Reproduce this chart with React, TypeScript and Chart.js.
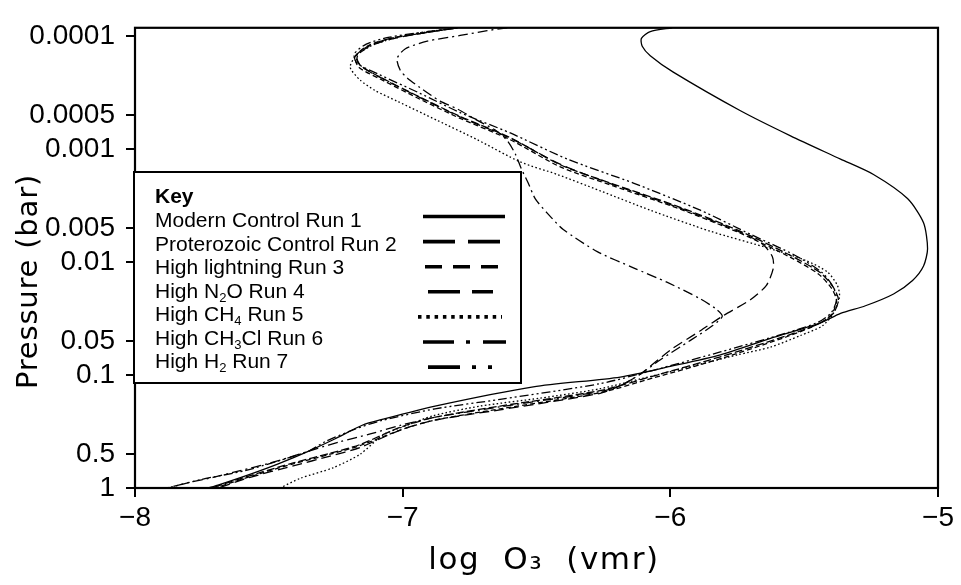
import React, { useEffect, useRef } from 'react';
import { Chart, registerables } from 'chart.js';

Chart.register(...registerables);

// ---------- axis / text ----------
const xTickValues = [-8, -7, -6, -5];
const yTickValues = [0.0001, 0.0005, 0.001, 0.005, 0.01, 0.05, 0.1, 0.5, 1];
const yTickLabels = ['0.0001', '0.0005', '0.001', '0.005', '0.01', '0.05', '0.1', '0.5', '1'];
const xTitle = 'log  O₃  (vmr)';
const yTitle = 'Pressure (bar)';
const keyTitle = 'Key';
// "_d" marks a subscript digit in the key
const keyLabels = [
  'Modern Control Run 1',
  'Proterozoic Control Run 2',
  'High lightning Run 3',
  'High N_2O Run 4',
  'High CH_4 Run 5',
  'High CH_3Cl Run 6',
  'High H_2 Run 7',
];
const seriesNames = [
  'Modern Control Run 1',
  'Proterozoic Control Run 2',
  'High lightning Run 3',
  'High N₂O Run 4',
  'High CH₄ Run 5',
  'High CH₃Cl Run 6',
  'High H₂ Run 7',
];

// ---------- data: log O3 (vmr) vs pressure (bar) ----------
const run1X = [-5.993, -6.075, -6.108, -6.105, -6.075, -5.989, -5.738, -5.551, -5.364, -5.241, -5.114, -5.054, -5.039, -5.054, -5.095, -5.166, -5.271, -5.364, -5.439, -5.626, -5.813, -6.0, -6.187, -6.512, -6.879, -7.077, -7.151, -7.252, -7.353, -7.465, -7.563, -7.69, -7.727];
const run1P = [8.38e-5, 9.06e-5, 1.04e-4, 1.22e-4, 1.48e-4, 2.07e-4, 4.55e-4, 7.59e-4, 1.22e-3, 1.67e-3, 2.73e-3, 4.47e-3, 7.59e-3, 1.08e-2, 1.45e-2, 1.91e-2, 2.43e-2, 2.84e-2, 3.45e-2, 4.73e-2, 6.62e-2, 8.38e-2, 0.104, 0.127, 0.188, 0.247, 0.278, 0.366, 0.473, 0.611, 0.745, 0.942, 1.0];

const run2X = [-6.796, -6.935, -7.047, -7.129, -7.174, -7.159, -7.084, -6.935, -6.785, -6.598, -6.411, -6.213, -5.963, -5.738, -5.551, -5.439, -5.391, -5.372, -5.391, -5.439, -5.563, -5.813, -6.064, -6.262, -6.636, -6.886, -7.009, -7.159, -7.271, -7.409, -7.533, -7.715];
const run2P = [8.38e-5, 9.42e-5, 1.04e-4, 1.22e-4, 1.48e-4, 1.8e-4, 2.29e-4, 3.45e-4, 5.11e-4, 7.88e-4, 1.37e-3, 2.03e-3, 3.26e-3, 5.32e-3, 8.71e-3, 1.24e-2, 1.67e-2, 2.15e-2, 2.84e-2, 3.45e-2, 4.46e-2, 6.88e-2, 0.102, 0.137, 0.188, 0.238, 0.29, 0.412, 0.492, 0.6, 0.73, 1.0];

const run3X = [-6.796, -6.935, -7.047, -7.133, -7.178, -7.163, -7.084, -6.935, -6.785, -6.598, -6.411, -6.213, -5.963, -5.738, -5.551, -5.447, -5.398, -5.379, -5.398, -5.447, -5.563, -5.813, -6.064, -6.262, -6.636, -6.886, -7.009, -7.159, -7.271, -7.409, -7.533, -7.701];
const run3P = [8.38e-5, 9.42e-5, 1.04e-4, 1.22e-4, 1.51e-4, 1.88e-4, 2.38e-4, 3.6e-4, 5.32e-4, 8.22e-4, 1.43e-3, 2.11e-3, 3.39e-3, 5.54e-3, 9.06e-3, 1.27e-2, 1.7e-2, 2.2e-2, 2.9e-2, 3.52e-2, 4.55e-2, 7.16e-2, 0.106, 0.143, 0.199, 0.252, 0.307, 0.421, 0.502, 0.611, 0.745, 1.0];

const run4X = [-6.796, -6.935, -7.047, -7.129, -7.17, -7.155, -7.08, -6.931, -6.781, -6.594, -6.407, -6.209, -5.963, -5.738, -5.656, -5.619, -5.615, -5.641, -5.701, -5.806, -5.888, -6.0, -6.112, -6.187, -6.262, -6.636, -6.886, -7.009, -7.159, -7.271, -7.409, -7.57, -7.69];
const run4P = [8.38e-5, 9.42e-5, 1.06e-4, 1.24e-4, 1.51e-4, 1.84e-4, 2.33e-4, 3.52e-4, 5.22e-4, 8.05e-4, 1.37e-3, 2.07e-3, 3.32e-3, 5.43e-3, 6.89e-3, 8.89e-3, 1.12e-2, 1.6e-2, 2.15e-2, 3.01e-2, 4.05e-2, 6.0e-2, 9.8e-2, 0.124, 0.145, 0.203, 0.252, 0.307, 0.437, 0.522, 0.636, 0.805, 1.0];

const run5X = [-6.796, -6.972, -7.103, -7.174, -7.196, -7.159, -7.103, -7.021, -6.871, -6.721, -6.561, -6.422, -6.262, -6.075, -5.85, -5.626, -5.495, -5.413, -5.376, -5.368, -5.391, -5.432, -5.514, -5.626, -5.75, -5.936, -6.112, -6.262, -6.486, -6.71, -6.886, -6.983, -7.073, -7.159, -7.26, -7.383, -7.458];
const run5P = [8.38e-5, 9.61e-5, 1.17e-4, 1.48e-4, 1.88e-4, 2.43e-4, 3.01e-4, 3.74e-4, 5.54e-4, 8.22e-4, 1.29e-3, 1.67e-3, 2.33e-3, 3.46e-3, 5.32e-3, 7.59e-3, 9.62e-3, 1.22e-2, 1.6e-2, 2.03e-2, 2.84e-2, 3.66e-2, 4.46e-2, 5.65e-2, 6.62e-2, 8.55e-2, 0.108, 0.132, 0.16, 0.188, 0.229, 0.278, 0.339, 0.502, 0.662, 0.822, 1.0];

const run6X = [-6.609, -6.684, -6.785, -6.908, -6.991, -7.021, -7.009, -6.983, -6.935, -6.86, -6.796, -6.721, -6.654, -6.609, -6.579, -6.557, -6.531, -6.505, -6.46, -6.4, -6.273, -6.138, -6.011, -5.888, -5.832, -5.806, -5.843, -5.925, -6.037, -6.112, -6.187, -6.262, -6.636, -6.886, -7.009, -7.121, -7.234, -7.32, -7.421, -7.507, -7.607, -7.708, -7.794, -7.88];
const run6P = [8.38e-5, 8.88e-5, 9.8e-5, 1.1e-4, 1.29e-4, 1.57e-4, 1.99e-4, 2.33e-4, 2.84e-4, 3.74e-4, 4.38e-4, 5.54e-4, 6.75e-4, 8.38e-4, 1.1e-3, 1.48e-3, 1.99e-3, 2.73e-3, 3.67e-3, 5.12e-3, 8.05e-3, 1.12e-2, 1.51e-2, 2.11e-2, 2.57e-2, 3.01e-2, 3.66e-2, 4.92e-2, 7.3e-2, 9.8e-2, 0.124, 0.14, 0.191, 0.238, 0.279, 0.332, 0.389, 0.447, 0.533, 0.611, 0.702, 0.805, 0.889, 1.0];

const run7X = [-6.796, -6.935, -7.054, -7.136, -7.181, -7.17, -7.092, -6.935, -6.785, -6.598, -6.385, -6.138, -5.888, -5.701, -5.533, -5.432, -5.391, -5.379, -5.398, -5.447, -5.563, -5.813, -6.064, -6.262, -6.636, -6.879, -7.077, -7.178, -7.29, -7.353, -7.465, -7.589, -7.75, -7.877];
const run7P = [8.38e-5, 9.24e-5, 1.02e-4, 1.17e-4, 1.43e-4, 1.73e-4, 2.15e-4, 3.19e-4, 4.73e-4, 7.16e-4, 1.22e-3, 1.99e-3, 3.46e-3, 5.65e-3, 8.71e-3, 1.24e-2, 1.67e-2, 2.15e-2, 2.78e-2, 3.39e-2, 4.21e-2, 6.24e-2, 9.06e-2, 0.119, 0.164, 0.199, 0.252, 0.301, 0.389, 0.473, 0.576, 0.702, 0.838, 1.0];

const seriesX = [run1X, run2X, run3X, run4X, run5X, run6X, run7X];
const seriesP = [run1P, run2P, run3P, run4P, run5P, run6P, run7P];

// ---------- styles ----------
const plotDash = [[], [8, 3], [5, 3], [10, 5], [1.6, 2.4], [10, 4, 2, 4], [9, 3, 2, 3, 2, 3]];
const keyDash = [[], [32, 13], [17, 11], [32, 12], [3.5, 4.8], [31, 12, 4, 13], [32, 12, 4, 12, 4, 12]];
const keyStart = [423, 423, 425, 428, 418, 423, 428];
const keyEnd = [505, 500, 498, 493, 502, 506, 492];

const SANS = '"Liberation Sans", Arial, Helvetica, sans-serif';
const TITLE = '"DejaVu Sans", sans-serif';

function drawRich(ctx: CanvasRenderingContext2D, text: string, x: number, y: number, size: number) {
  const parts = text.split(/(_\d)/);
  let cx = x;
  for (const part of parts) {
    if (!part) continue;
    if (part.startsWith('_')) {
      const s = part.slice(1);
      ctx.font = `${Math.round(size * 0.64)}px ${SANS}`;
      ctx.fillText(s, cx, y + size * 0.2);
      cx += ctx.measureText(s).width;
    } else {
      ctx.font = `${size}px ${SANS}`;
      ctx.fillText(part, cx, y);
      cx += ctx.measureText(part).width;
    }
  }
}

const overlay = {
  id: 'overlay',
  afterDraw(chart: any) {
    const ctx: CanvasRenderingContext2D = chart.ctx;
    const a = chart.chartArea;
    ctx.save();
    // frame
    ctx.strokeStyle = '#000';
    ctx.lineWidth = 2.2;
    ctx.setLineDash([]);
    ctx.strokeRect(a.left, a.top, a.right - a.left, a.bottom - a.top);

    // key box
    const bx = 134, by = 172, bw = 387, bh = 211;
    ctx.fillStyle = '#fff';
    ctx.fillRect(bx, by, bw, bh);
    ctx.lineWidth = 2;
    ctx.strokeRect(bx, by, bw, bh);

    ctx.fillStyle = '#000';
    ctx.textBaseline = 'alphabetic';
    ctx.textAlign = 'left';
    ctx.font = `bold 21px ${SANS}`;
    ctx.fillText(keyTitle, 155, 203);
    for (let i = 0; i < keyLabels.length; i++) {
      drawRich(ctx, keyLabels[i], 155, 227 + i * 23.5, 21);
      const ly = 216.5 + i * 25.1;
      ctx.beginPath();
      ctx.lineWidth = 3.6;
      ctx.lineCap = 'butt';
      ctx.setLineDash(keyDash[i]);
      ctx.moveTo(keyStart[i], ly);
      ctx.lineTo(keyEnd[i], ly);
      ctx.stroke();
    }
    ctx.setLineDash([]);

    // axis titles
    ctx.fillStyle = '#000';
    ctx.font = `31px ${TITLE}`;
    (ctx as any).letterSpacing = '1.6px';
    ctx.textAlign = 'center';
    ctx.fillText(xTitle, 544, 569);

    ctx.font = `29px ${TITLE}`;
    (ctx as any).letterSpacing = '0.8px';
    ctx.translate(37, 281.5);
    ctx.rotate(-Math.PI / 2);
    ctx.fillText(yTitle, 0, 0);
    ctx.restore();
  },
};

export default function App() {
  const ref = useRef<HTMLCanvasElement>(null);
  useEffect(() => {
    document.body.style.margin = '0';
    const canvas = ref.current!;
    const datasets = seriesNames.map((name, i) => ({
      label: name,
      data: seriesX[i].map((x, j) => ({ x, y: seriesP[i][j] })),
      showLine: true,
      borderColor: '#000',
      borderWidth: 1.3,
      borderDash: plotDash[i],
      pointRadius: 0,
      tension: 0.25,
      fill: false,
    }));
    const chart = new Chart(canvas, {
      type: 'scatter',
      data: { datasets },
      plugins: [overlay],
      options: {
        animation: false,
        responsive: true,
        maintainAspectRatio: false,
        devicePixelRatio: 1,
        layout: { padding: { top: 11, right: 23, left: 0, bottom: 0 } },
        plugins: { legend: { display: false }, tooltip: { enabled: false } },
        scales: {
          x: {
            type: 'linear',
            min: -8,
            max: -5,
            afterFit: (s: any) => { s.height = 97; },
            afterBuildTicks: (s: any) => { s.ticks = xTickValues.map((v) => ({ value: v })); },
            ticks: {
              autoSkip: false,
              color: '#000',
              padding: 4,
              font: { size: 28, family: SANS },
              callback: (v: any) => (Number(v) < 0 ? '−' + Math.abs(Number(v)) : String(v)),
            },
            grid: { drawOnChartArea: false, drawTicks: true, tickLength: 9, color: '#000', lineWidth: 2 },
            border: { display: false },
          },
          y: {
            type: 'logarithmic',
            reverse: true,
            min: 8.38e-5,
            max: 1,
            afterFit: (s: any) => { s.width = 135; },
            afterBuildTicks: (s: any) => { s.ticks = yTickValues.map((v) => ({ value: v })); },
            ticks: {
              autoSkip: false,
              color: '#000',
              padding: 11,
              font: { size: 28, family: SANS },
              callback: (_v: any, i: number) => yTickLabels[i],
            },
            grid: { drawOnChartArea: false, drawTicks: true, tickLength: 9, color: '#000', lineWidth: 2 },
            border: { display: false },
          },
        },
      },
    } as any);
    return () => chart.destroy();
  }, []);
  return (
    <div style={{ position: 'relative', width: 961, height: 585 }}>
      <canvas ref={ref} />
    </div>
  );
}
